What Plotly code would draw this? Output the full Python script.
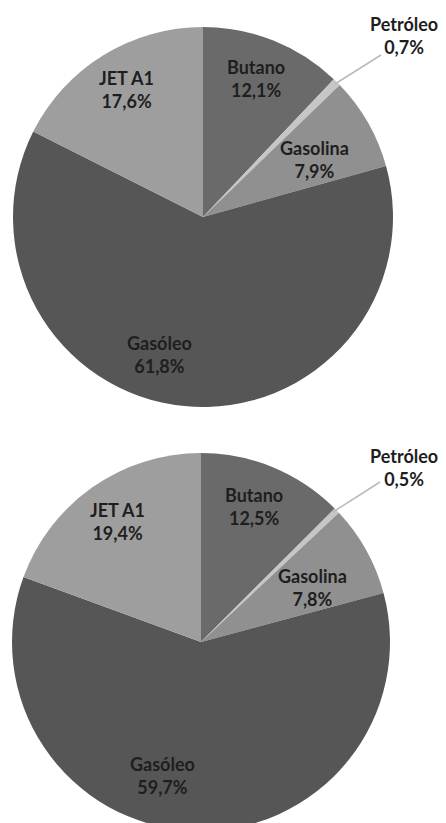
import plotly.graph_objects as go

W, H = 446, 823
OFF = 8  # page body margin shifts the figure by this many pixels

labels = ["Butano", "Petróleo", "Gasolina", "Gasóleo", "JET A1"]
values_top = [12.1, 0.7, 7.9, 61.8, 17.6]
values_bottom = [12.5, 0.5, 7.8, 59.7, 19.4]

colors = ["#6a6a6a", "#c6c6c6", "#909090", "#565656", "#9e9e9e"]

# label block centres (screen pixels) for each pie
pos_top = [(256, 79), (404, 36), (314, 160), (159, 354), (126, 89)]
pos_bottom = [(254, 506), (404, 467), (312, 587), (162, 775), (117, 521)]
# Petróleo leader lines (screen pixels)
lead_top = ((335, 84), (381, 55))
lead_bottom = ((333, 512), (380, 482))


def px(x, y):
    return (x - OFF) / W, 1 - (y - OFF) / H


def pct(v):
    return f"{v:.1f}%".replace(".", ",")


fig = go.Figure()

# top pie: screen centre (203, 217), r 190 ; bottom pie: screen centre (201, 642), r 189
domains = [
    dict(x=[(13 - OFF) / W, (393 - OFF) / W], y=[1 - (407 - OFF) / H, 1 - (27 - OFF) / H]),
    dict(x=[(12 - OFF) / W, (390 - OFF) / W], y=[0, 1 - (453 - OFF) / H]),
]

for vals, dom in zip([values_top, values_bottom], domains):
    fig.add_trace(go.Pie(
        labels=labels, values=vals, domain=dom,
        sort=False, direction="clockwise", rotation=0,
        marker=dict(colors=colors, line=dict(width=0)),
        textinfo="none", hoverinfo="label+percent", showlegend=False,
    ))

annotations = []
shapes = []
for vals, pos, lead in [(values_top, pos_top, lead_top), (values_bottom, pos_bottom, lead_bottom)]:
    for lab, v, (x, y) in zip(labels, vals, pos):
        xp, yp = px(x, y)
        annotations.append(dict(
            x=xp, y=yp, xref="paper", yref="paper", showarrow=False,
            xanchor="center", yanchor="middle",
            text=f"{lab}<br>{pct(v)}", align="center",
            font=dict(family="Lato", size=18, color="#1e1e1e", weight="bold"),
        ))
    (x0, y0), (x1, y1) = lead
    a0, b0 = px(x0, y0)
    a1, b1 = px(x1, y1)
    shapes.append(dict(type="line", xref="paper", yref="paper",
                       x0=a0, y0=b0, x1=a1, y1=b1,
                       line=dict(color="#b9b9b9", width=1.5)))

fig.update_layout(
    width=W, height=H,
    margin=dict(l=0, r=0, t=0, b=0),
    paper_bgcolor="white", plot_bgcolor="white",
    annotations=annotations, shapes=shapes,
)

fig.write_html("out.html")
